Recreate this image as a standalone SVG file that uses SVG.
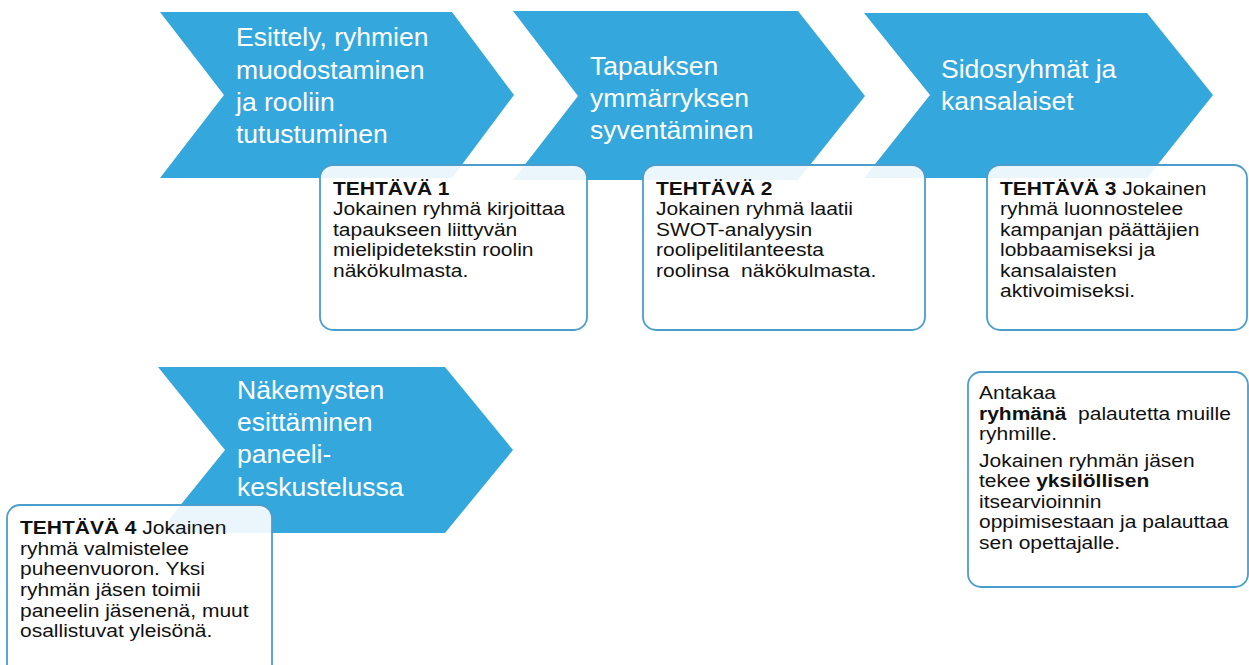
<svg xmlns="http://www.w3.org/2000/svg" width="1249" height="665" viewBox="0 0 1249 665">
<style>
  .chev { fill: #34a7dc; }
  .ctext { font-family: "Liberation Sans", Arial, sans-serif; font-size: 26.5px; fill: #ffffff; }
  .box { fill: #ffffff; fill-opacity: 0.9; stroke: #4b9ecb; stroke-width: 1.8; }
  .btext { font-family: "Liberation Sans", Arial, sans-serif; font-size: 18.5px; fill: #111111; white-space: pre; }
  .b { font-weight: bold; }
</style>
<rect width="1249" height="665" fill="#ffffff"/>
<g id="chevron1">
  <polygon class="chev" points="160,12 452,12 514,95 452,178 160,178 224,95"/>
  <text class="ctext"><tspan x="236" y="46">Esittely, ryhmien</tspan><tspan x="236" y="79">muodostaminen</tspan><tspan x="236" y="111">ja rooliin</tspan><tspan x="236" y="143">tutustuminen</tspan></text>
</g>
<g id="chevron2">
  <polygon class="chev" points="513,11 798,11 865,96 798,180 513,180 578,96"/>
  <text class="ctext"><tspan x="590" y="75">Tapauksen</tspan><tspan x="590" y="107">ymmärryksen</tspan><tspan x="590" y="139">syventäminen</tspan></text>
</g>
<g id="chevron3">
  <polygon class="chev" points="864,13 1147,13 1213,95 1147,178 864,178 930,95"/>
  <text class="ctext"><tspan x="941" y="78">Sidosryhmät ja</tspan><tspan x="941" y="110">kansalaiset</tspan></text>
</g>
<g id="chevron4">
  <polygon class="chev" points="158,367 445,367 513,450 445,533 158,533 225,450"/>
  <text class="ctext"><tspan x="237" y="399">Näkemysten</tspan><tspan x="237" y="431">esittäminen</tspan><tspan x="237" y="463">paneeli-</tspan><tspan x="237" y="496">keskustelussa</tspan></text>
</g>
<g id="task1">
  <rect class="box" x="320" y="165" width="267" height="165" rx="13"/>
  <text class="btext" transform="translate(333,0) scale(1.135,1)"><tspan x="0" y="195" class="b">TEHTÄVÄ 1</tspan><tspan x="0" y="215.5">Jokainen ryhmä kirjoittaa</tspan><tspan x="0" y="236">tapaukseen liittyvän</tspan><tspan x="0" y="256.5">mielipidetekstin roolin</tspan><tspan x="0" y="277">näkökulmasta.</tspan></text>
</g>
<g id="task2">
  <rect class="box" x="643" y="165" width="282" height="165" rx="13"/>
  <text class="btext" transform="translate(656,0) scale(1.135,1)"><tspan x="0" y="195" class="b">TEHTÄVÄ 2</tspan><tspan x="0" y="215.5">Jokainen ryhmä laatii</tspan><tspan x="0" y="236">SWOT-analyysin</tspan><tspan x="0" y="256.5">roolipelitilanteesta</tspan><tspan x="0" y="277">roolinsa  näkökulmasta.</tspan></text>
</g>
<g id="task3">
  <rect class="box" x="987" y="165" width="260" height="165" rx="13"/>
  <text class="btext" transform="translate(1000,0) scale(1.135,1)"><tspan x="0" y="195"><tspan class="b">TEHTÄVÄ 3</tspan> Jokainen</tspan><tspan x="0" y="215.5">ryhmä luonnostelee</tspan><tspan x="0" y="236">kampanjan päättäjien</tspan><tspan x="0" y="256.5">lobbaamiseksi ja</tspan><tspan x="0" y="277">kansalaisten</tspan><tspan x="0" y="297.5">aktivoimiseksi.</tspan></text>
</g>
<g id="task4">
  <rect class="box" x="7" y="505" width="265" height="175" rx="13"/>
  <text class="btext" transform="translate(20,0) scale(1.135,1)"><tspan x="0" y="534"><tspan class="b">TEHTÄVÄ 4</tspan> Jokainen</tspan><tspan x="0" y="554.7">ryhmä valmistelee</tspan><tspan x="0" y="575.4">puheenvuoron. Yksi</tspan><tspan x="0" y="596.1">ryhmän jäsen toimii</tspan><tspan x="0" y="616.8">paneelin jäsenenä, muut</tspan><tspan x="0" y="637.5">osallistuvat yleisönä.</tspan></text>
</g>
<g id="feedback">
  <rect class="box" x="968" y="372" width="280" height="215" rx="13"/>
  <text class="btext" transform="translate(979,0) scale(1.135,1)"><tspan x="0" y="399">Antakaa</tspan><tspan x="0" y="420"><tspan class="b">ryhmänä</tspan>  palautetta muille</tspan><tspan x="0" y="440.5">ryhmille.</tspan><tspan x="0" y="467">Jokainen ryhmän jäsen</tspan><tspan x="0" y="487.5">tekee <tspan class="b">yksilöllisen</tspan></tspan><tspan x="0" y="508">itsearvioinnin</tspan><tspan x="0" y="528.5">oppimisestaan ja palauttaa</tspan><tspan x="0" y="549">sen opettajalle.</tspan></text>
</g>
<g id="connectors"></g>
</svg>
